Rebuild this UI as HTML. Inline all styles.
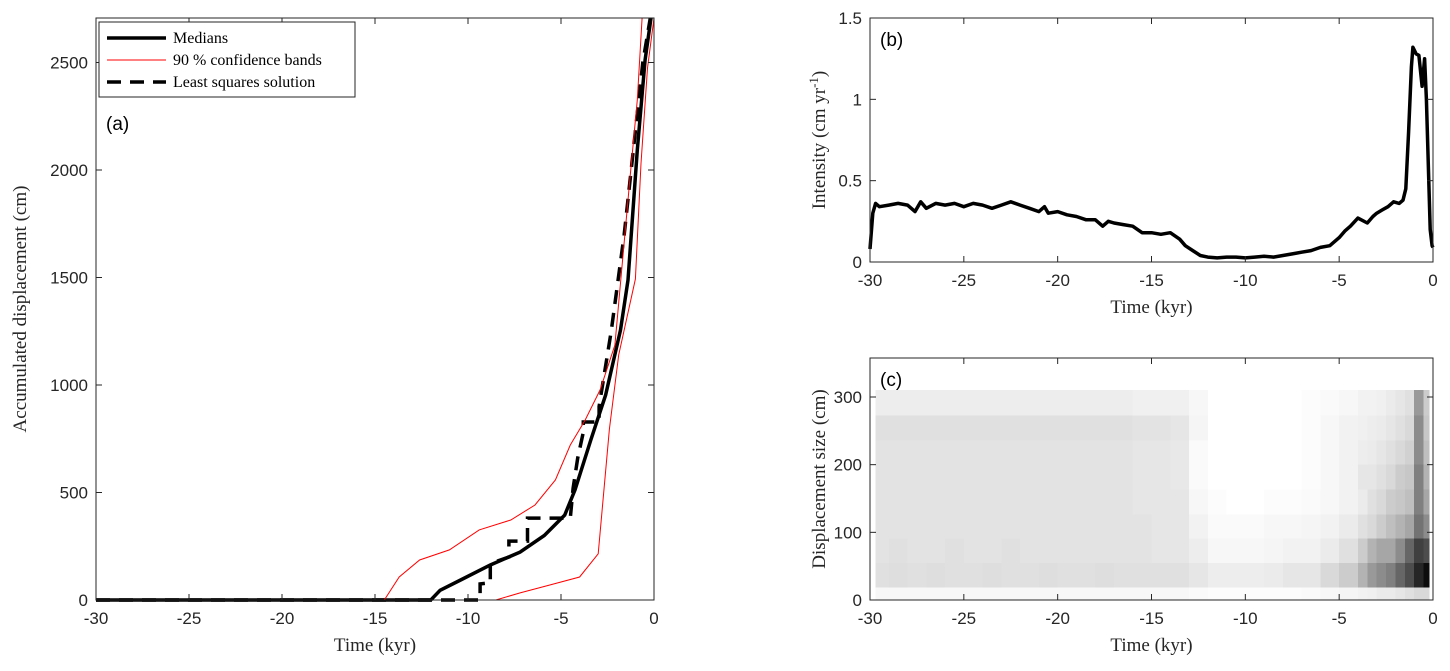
<!DOCTYPE html>
<html><head><meta charset="utf-8">
<style>
html,body{margin:0;padding:0;background:#fff;}
svg{display:block;}
.tick{font-family:"Liberation Sans",sans-serif;font-size:17px;fill:#262626;}
.lab{font-family:"Liberation Serif",serif;font-size:19px;fill:#262626;}
.leg{font-family:"Liberation Serif",serif;font-size:16px;fill:#000;}
.pl{font-family:"Liberation Sans",sans-serif;font-size:19px;fill:#000;}
</style></head>
<body>
<svg id="fig" width="1450" height="671" viewBox="0 0 1450 671" xmlns="http://www.w3.org/2000/svg"></svg>
<script>
// ---- Panel (a) data ----
const medT=[-30,-12,-11.5,-10.4,-8.8,-7.2,-5.9,-4.8,-4.25,-3.4,-2.6,-1.8,-1.4,-0.9,-0.48,-0.16];
const medD=[0,0,45,93,163,223,300,395,512,744,953,1256,1488,2093,2512,2707];
const upT=[-30,-14.5,-13.7,-12.6,-11,-9.4,-7.7,-6.4,-5.3,-4.5,-3.7,-2.9,-2.1,-1.7,-1.3,-0.9,-0.64];
const upD=[0,0,107,186,233,326,372,442,558,721,837,977,1186,1572,1953,2326,2707];
const loT=[-30,-8.5,-7.2,-5.6,-4,-3.0,-2.4,-1.9,-1.0,-0.7,-0.35,0];
const loD=[0,0,33,70,107,215,795,1140,1493,2030,2474,2707];
const lsT=[-30,-9.35,-9.35,-8.8,-8.8,-7.8,-7.8,-6.8,-6.8,-4.5,-4.35,-4.1,-3.8,-3.8,-2.95,-2.95,-2.3,-1.6,-1.1,-0.6,-0.2,0];
const lsD=[0,0,75,80,170,200,274,274,381,381,520,660,780,828,828,900,1250,1700,2100,2500,2707,2707];
const xTicks=[-30,-25,-20,-15,-10,-5,0];
const aYTicks=[0,500,1000,1500,2000,2500];
// ---- Panel (b) data ----
const intT=[-30,-29.85,-29.7,-29.5,-29,-28.5,-28,-27.6,-27.3,-27,-26.5,-26,-25.5,-25,-24.5,-24,-23.5,-23,-22.5,-22,-21.5,-21,-20.7,-20.5,-20,-19.5,-19,-18.5,-18,-17.6,-17.3,-17,-16.5,-16,-15.5,-15,-14.5,-14,-13.5,-13.2,-12.8,-12.4,-12,-11.5,-11,-10.5,-10,-9.5,-9,-8.5,-8,-7.5,-7,-6.5,-6,-5.5,-5,-4.7,-4.4,-4,-3.5,-3.2,-3,-2.7,-2.4,-2.1,-1.8,-1.6,-1.45,-1.3,-1.15,-1.07,-0.9,-0.75,-0.58,-0.45,-0.35,-0.25,-0.15,-0.05,0];
const intV=[0.08,0.3,0.36,0.34,0.35,0.36,0.35,0.31,0.37,0.33,0.36,0.35,0.36,0.34,0.36,0.35,0.33,0.35,0.37,0.35,0.33,0.31,0.34,0.3,0.31,0.29,0.28,0.26,0.26,0.22,0.25,0.24,0.23,0.22,0.18,0.18,0.17,0.18,0.14,0.1,0.07,0.04,0.03,0.025,0.03,0.03,0.025,0.03,0.035,0.03,0.04,0.05,0.06,0.07,0.09,0.1,0.15,0.19,0.22,0.27,0.24,0.28,0.3,0.32,0.34,0.37,0.36,0.38,0.45,0.8,1.2,1.32,1.28,1.27,1.08,1.25,1.0,0.6,0.2,0.1,0.09];
const bYTicks=[0,0.5,1,1.5];
// ---- Panel (c) data ----
const colEdges=[-29.7,-29,-28,-27,-26,-25,-24,-23,-22,-21,-20,-19,-18,-17,-16,-15,-14,-13,-12,-11,-10,-9,-8,-7,-6,-5,-4,-3.5,-3,-2.5,-2,-1.5,-1,-0.5,-0.2];
const rowEdges=[0,19,55,91,127,164,201,236,273,310];
const heatR0=[0.03,0.03,0.03,0.03,0.03,0.03,0.03,0.03,0.03,0.03,0.03,0.03,0.03,0.03,0.03,0.03,0.03,0.02,0.01,0.01,0.01,0.01,0.01,0.02,0.03,0.04,0.05,0.06,0.08,0.08,0.1,0.12,0.15,0.15];
const heatR1=[0.12,0.13,0.12,0.13,0.12,0.12,0.13,0.12,0.12,0.13,0.12,0.12,0.13,0.12,0.12,0.12,0.12,0.1,0.07,0.07,0.07,0.08,0.1,0.1,0.15,0.2,0.3,0.4,0.45,0.5,0.6,0.7,0.85,0.95];
const heatR2=[0.11,0.12,0.11,0.11,0.12,0.11,0.11,0.12,0.11,0.11,0.11,0.11,0.11,0.11,0.11,0.1,0.1,0.07,0.03,0.03,0.03,0.04,0.05,0.05,0.08,0.12,0.2,0.3,0.35,0.35,0.45,0.6,0.75,0.7];
const heatR3=[0.11,0.11,0.11,0.11,0.11,0.11,0.11,0.11,0.11,0.11,0.11,0.11,0.11,0.11,0.11,0.1,0.1,0.05,0.02,0.02,0.02,0.03,0.03,0.04,0.05,0.08,0.12,0.15,0.2,0.25,0.3,0.35,0.55,0.45];
const heatR4=[0.11,0.11,0.11,0.11,0.11,0.11,0.11,0.11,0.11,0.11,0.11,0.11,0.11,0.11,0.1,0.1,0.1,0.03,0.01,0.0,0.0,0.01,0.01,0.02,0.03,0.05,0.08,0.12,0.15,0.2,0.22,0.25,0.5,0.35];
const heatR5=[0.11,0.11,0.11,0.11,0.11,0.11,0.11,0.11,0.11,0.11,0.11,0.11,0.11,0.11,0.1,0.1,0.09,0.02,0.0,0.0,0.0,0.0,0.0,0.01,0.03,0.05,0.1,0.1,0.12,0.15,0.2,0.22,0.5,0.3];
const heatR6=[0.11,0.11,0.11,0.11,0.11,0.11,0.11,0.11,0.11,0.11,0.11,0.11,0.11,0.11,0.1,0.1,0.09,0.02,0.0,0.0,0.0,0.0,0.0,0.01,0.03,0.05,0.07,0.08,0.1,0.12,0.15,0.18,0.45,0.25];
const heatR7=[0.12,0.12,0.12,0.12,0.12,0.12,0.12,0.12,0.12,0.12,0.12,0.12,0.12,0.12,0.11,0.11,0.1,0.04,0.0,0.0,0.0,0.0,0.0,0.01,0.03,0.05,0.06,0.07,0.08,0.1,0.12,0.15,0.45,0.22];
const heatR8=[0.07,0.07,0.07,0.07,0.07,0.07,0.07,0.07,0.07,0.07,0.07,0.07,0.07,0.07,0.06,0.06,0.06,0.03,0.0,0.0,0.0,0.0,0.0,0.01,0.02,0.03,0.05,0.05,0.06,0.08,0.1,0.12,0.4,0.2];
const heatRows=[heatR0,heatR1,heatR2,heatR3,heatR4,heatR5,heatR6,heatR7,heatR8];
const cYTicks=[0,100,200,300];

const NS='http://www.w3.org/2000/svg';
const svg=document.getElementById('fig');
function mk(tag,attrs,parent,text){const e=document.createElementNS(NS,tag);for(const k in attrs)e.setAttribute(k,attrs[k]);if(text!==undefined)e.textContent=text;(parent||svg).appendChild(e);return e;}
function lin(d0,d1,p0,p1){return v=>p0+(v-d0)/(d1-d0)*(p1-p0);}
function pathD(xs,ys,sx,sy){return xs.map((t,i)=>(i?'L':'M')+sx(t).toFixed(1)+','+sy(ys[i]).toFixed(1)).join('');}

function axes(g,L,T,R,B,sx,sy,yt,yfmt){
  mk('rect',{x:L,y:T,width:R-L,height:B-T,fill:'none',stroke:'#262626','stroke-width':1},g);
  xTicks.forEach(v=>{const x=sx(v);
    const t1=mk('line',{x1:x,y1:B,x2:x,y2:B-6,stroke:'#262626'},g);
    
    mk('line',{x1:x,y1:T,x2:x,y2:T+6,stroke:'#262626'},g);
    const tl=mk('text',{x:x,y:B+24,'text-anchor':'middle',class:'tick'},g,String(v));
    });
  yt.forEach(v=>{const y=sy(v);
    mk('line',{x1:L,y1:y,x2:L+6,y2:y,stroke:'#262626'},g);
    mk('line',{x1:R,y1:y,x2:R-6,y2:y,stroke:'#262626'},g);
    const tl=mk('text',{x:L-8,y:y+6,'text-anchor':'end',class:'tick'},g,yfmt(v));
    });
  const xl=mk('text',{x:(L+R)/2,y:B+51,'text-anchor':'middle',class:'lab'},g,'Time (kyr)');
  
}

// Panel A
const gA=mk('g',{});
const axL=96,axR=654,axT=18,axB=600;
const sxA=lin(-30,0,axL,axR), syA=lin(0,2500,axB,62.5);
const cp=mk('clipPath',{id:'clipA'},gA);
mk('rect',{x:axL,y:axT,width:axR-axL,height:axB-axT+3},cp);
const gAc=mk('g',{'clip-path':'url(#clipA)'},gA);
mk('path',{d:pathD(lsT,lsD,sxA,syA),fill:'none',stroke:'#000','stroke-width':3.5,'stroke-dasharray':'14,9',},gAc);
mk('path',{d:pathD(medT,medD,sxA,syA),fill:'none',stroke:'#000','stroke-width':3.5,},gAc);
mk('path',{d:pathD(upT,upD,sxA,syA),fill:'none',stroke:'#f00','stroke-width':1,},gAc);
mk('path',{d:pathD(loT,loD,sxA,syA),fill:'none',stroke:'#f00','stroke-width':1,},gAc);
axes(gA,axL,axT,axR,axB,sxA,syA,aYTicks,v=>String(v));
mk('text',{x:26,y:309,'text-anchor':'middle',class:'lab',transform:'rotate(-90 26 309)',},gA,'Accumulated displacement (cm)');
mk('text',{x:106,y:130,class:'pl',},gA,'(a)');
const lg=mk('g',{},gA);
mk('rect',{x:99,y:22,width:256,height:75,fill:'#fff',stroke:'#262626','stroke-width':1},lg);
mk('line',{x1:107,y1:38,x2:166,y2:38,stroke:'#000','stroke-width':3.5,},lg);
mk('text',{x:173,y:43,class:'leg',},lg,'Medians');
mk('line',{x1:107,y1:60,x2:166,y2:60,stroke:'#f00','stroke-width':1,},lg);
mk('text',{x:173,y:65,class:'leg',},lg,'90 % confidence bands');
mk('line',{x1:107,y1:82,x2:166,y2:82,stroke:'#000','stroke-width':3.5,'stroke-dasharray':'14,9',},lg);
mk('text',{x:173,y:87,class:'leg',},lg,'Least squares solution');

// Panel B
const gB=mk('g',{});
const bL=870,bR=1433,bT=18,bB=262;
const sxB=lin(-30,0,bL,bR), syB=lin(0,1.5,bB,bT);
mk('path',{d:pathD(intT,intV,sxB,syB),fill:'none',stroke:'#000','stroke-width':3.5,'stroke-linejoin':'round',},gB);
axes(gB,bL,bT,bR,bB,sxB,syB,bYTicks,v=>String(v));
const yb=mk('text',{x:825,y:140,'text-anchor':'middle',class:'lab',transform:'rotate(-90 825 140)',},gB,'Intensity (cm  yr');
mk('tspan',{dy:-7,'font-size':13},yb,'-1');
mk('tspan',{dy:7},yb,')');
mk('text',{x:880,y:46,class:'pl',},gB,'(b)');

// Panel C
const gC=mk('g',{});
const cL=870,cR=1433,cT=358,cB=600;
const sxC=lin(-30,0,cL,cR), syC=lin(0,300,cB,397);
const gH=mk('g',{'shape-rendering':'crispEdges'},gC);
heatRows.forEach((row,r)=>{
  row.forEach((v,c)=>{
    const x0=sxC(colEdges[c]),x1=sxC(colEdges[c+1]);
    const y0=syC(rowEdges[r+1]),y1=syC(rowEdges[r]);
    const g=Math.round(255*(1-v));
    const cell=mk('rect',{x:x0.toFixed(2),y:y0.toFixed(2),width:(x1-x0+0.3).toFixed(2),height:(y1-y0+0.3).toFixed(2),fill:`rgb(${g},${g},${g})`},gH);
    
    
  });
});
axes(gC,cL,cT,cR,cB,sxC,syC,cYTicks,v=>String(v));
mk('text',{x:825,y:479,'text-anchor':'middle',class:'lab',transform:'rotate(-90 825 479)',},gC,'Displacement size (cm)');
mk('text',{x:880,y:386,class:'pl',},gC,'(c)');
</script>
</body></html>
